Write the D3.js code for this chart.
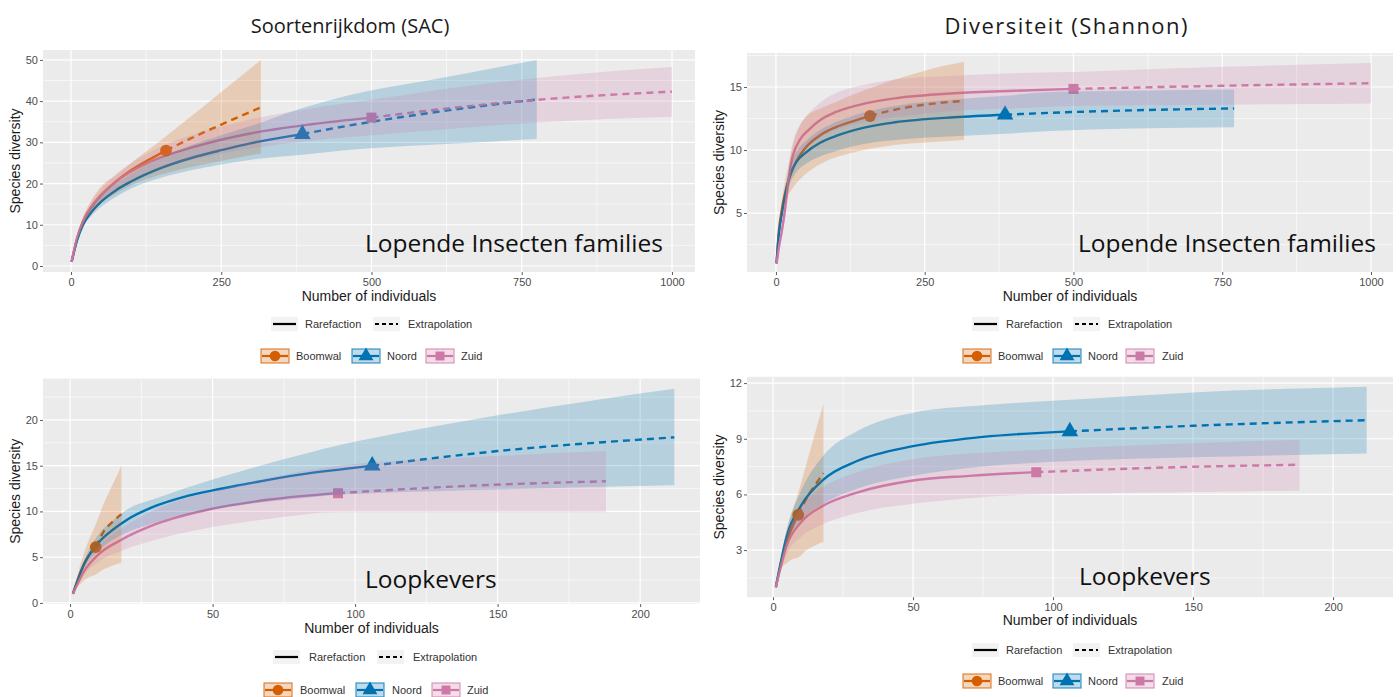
<!DOCTYPE html>
<html>
<head>
<meta charset="utf-8">
<script src="https://cdn.jsdelivr.net/npm/d3@7"></script>
<style>
  html, body { margin: 0; padding: 0; background: #ffffff; }
  svg { display: block; }
</style>
</head>
<body>
<svg id="chart" width="1400" height="697"></svg>
<script>
// ---------------- DATA ----------------
const groups = ["Boomwal", "Noord", "Zuid"];
const groupColors = ["#D55E00", "#0072B2", "#CC79A7"];
const panelTitles = ["Soortenrijkdom (SAC)", "Diversiteit (Shannon)"];
const rowLabels = ["Lopende Insecten families", "Loopkevers"];
const methodLabels = ["Rarefaction", "Extrapolation"];

// reference sample sizes (observed) per group
const insectRef = [158, 385, 500];
const beetleRef = [9, 106, 94];

// [n, estimate, lower, upper]
const insSAC_Boomwal = [[1,1,1,1],[10,6.5,5.8,7.2],[20,10.8,9.8,11.8],[35,14.5,12.8,16.2],[50,17.2,15.2,19.3],[75,20.5,17.6,22],[100,23.2,19.6,25],[130,25.8,21.3,28.3],[158,28,22.5,31.5],[200,31,24,36.3],[250,34.3,25.5,42.2],[316,38.5,27.3,50]];
const insSAC_Noord = [[1,1,1,1],[10,6.2,5.8,6.6],[20,10,9.4,10.6],[35,13.3,12.3,14.3],[50,15.6,14.3,16.9],[75,18.4,16.8,20],[100,20.5,18.8,22.4],[150,23.8,21.4,26.2],[200,26.2,23.2,29.3],[250,28.1,24.6,31.7],[300,29.8,25.8,34],[385,32,27,38.3],[464,34.1,28.2,41.5],[600,37.2,29.4,45.2],[775,40.4,30.8,50]];
const insSAC_Zuid = [[1,1,1,1],[10,6.8,6.3,7.3],[20,10.8,10,11.6],[35,14.6,13.5,15.7],[50,17.2,15.8,18.6],[75,20.5,18.7,22.3],[100,22.9,20.8,25],[150,26.4,23.8,29],[200,28.7,25.7,31.7],[300,32.2,28.5,35.6],[400,34.4,30.4,38.2],[500,36,31.7,40.3],[650,38.6,33.5,43.5],[800,40.6,35,46],[1000,42.3,36.2,48.3]];

const insSH_Boomwal = [[1,1,1,1],[5,3.6,3.2,4],[10,5.3,4.6,6],[15,6.5,5.6,7.5],[20,7.4,6.3,8.6],[30,8.7,7.1,10.6],[50,10.2,8.1,12.6],[75,11.2,8.9,13.3],[100,11.8,9.4,13.8],[130,12.3,9.8,14.4],[158,12.7,10.1,14.9],[200,13.2,10.4,15.6],[250,13.6,10.6,16.3],[316,13.9,10.8,17]];
const insSH_Noord = [[1,1,1,1],[5,3.4,3.1,3.7],[10,5,4.6,5.4],[20,7.4,6.8,8],[25,8.2,7.5,8.9],[35,9.1,8.3,9.9],[50,9.8,8.9,10.7],[75,10.6,9.5,11.6],[100,11.1,9.9,12.2],[150,11.8,10.5,13],[200,12.2,10.8,13.5],[300,12.6,11.1,14],[385,12.8,11.3,14.3],[460,12.95,11.5,14.6],[600,13.15,11.7,14.7],[770,13.3,11.8,14.8]];
const insSH_Zuid = [[1,1,1,1],[5,2.3,2,2.6],[10,3.6,3.2,4],[15,5.2,4.6,5.8],[20,7.2,6.4,8],[25,8.9,7.9,9.9],[30,9.8,8.7,10.9],[40,10.8,9.6,12],[55,11.6,10.3,12.9],[75,12.4,11,13.8],[100,13,11.6,14.5],[150,13.7,12.2,15.2],[200,14.1,12.6,15.6],[300,14.5,13.1,15.9],[400,14.7,13.3,16.1],[500,14.85,13.5,16.2],[750,15.1,13.6,16.6],[1000,15.3,13.7,16.9]];

const bSAC_Boomwal = [[1,1,1,1],[2,1.9,1.5,2.3],[4,3.6,2.2,4.6],[6,4.9,2.7,6.4],[9,6.1,3.1,8.6],[12,7.9,3.7,11],[15,8.9,4.1,13],[18,9.7,4.4,15]];
const bSAC_Noord = [[1,1,1,1],[5,4.3,3.9,4.7],[10,6.6,5.7,7.5],[15,8,6.9,9],[20,9.1,7.7,10.2],[30,10.6,8.8,11.4],[40,11.6,9.6,12.5],[50,12.3,10.2,13.5],[60,12.9,10.7,14.4],[80,14,11.4,16.1],[98,14.7,11.9,17.5],[106,15,12,18],[150,16.6,12.4,20.5],[212,18.1,12.85,23.4]];
const bSAC_Zuid = [[1,1,1,1],[5,3.5,3.1,3.9],[10,5.3,4.5,6.1],[18,6.9,5.7,8.1],[30,8.6,6.9,10.2],[50,10.3,8.3,12.2],[70,11.3,9.2,13.7],[94,12,9.9,15],[140,12.8,9.9,15.9],[188,13.3,9.9,16.6]];

const bSH_Boomwal = [[1,1,1,1],[3,2.4,2,2.7],[5,3.5,2.3,4.1],[7,4.3,2.5,5.1],[9,4.9,2.6,6.1],[12,5.8,3,7.7],[15,6.5,3.25,9.3],[18,7.15,3.45,10.9]];
const bSH_Noord = [[1,1,1,1],[5,3.8,3.4,4.2],[10,5.4,4.6,6.2],[18,6.8,5.5,8.1],[30,7.8,6.3,9.4],[50,8.6,7,10.4],[75,9.1,7.5,10.8],[106,9.4,7.8,11.1],[150,9.7,8,11.5],[212,10,8.2,11.8]];
const bSH_Zuid = [[1,1,1,1],[5,3.3,2.8,3.8],[10,4.5,3.7,5.3],[18,5.4,4.4,6.4],[30,6.1,5,7.2],[50,6.75,5.5,7.9],[70,7,5.8,8.2],[94,7.2,6,8.4],[140,7.45,6.1,8.7],[188,7.6,6.2,8.95]];

const insSACTicksX = [0, 250, 500, 750, 1000];
const insSACTicksY = [0, 10, 20, 30, 40, 50];
const insSHTicksY = [5, 10, 15];
const bTicksX = [0, 50, 100, 150, 200];
const bSACTicksY = [0, 5, 10, 15, 20];
const bSHTicksY = [3, 6, 9, 12];

// ---------------- LAYOUT ----------------
const panels = [
  { series: [insSAC_Boomwal, insSAC_Noord, insSAC_Zuid], refs: insectRef,
    rect: {x0: 43, x1: 695, y0: 50, y1: 272}, xDom: [-46.6, 1038.3], yDom: [-1.46, 52.4],
    xTicks: insSACTicksX, yTicks: insSACTicksY, xMinor: [125, 375, 625, 875], yMinor: [5, 15, 25, 35, 45],
    label: rowLabels[0], labelPos: [365, 252], xTitleY: 301, yTitleX: 20, legendY: [324, 356],
    legX: {k1: 271, t1: 305, k2: 373, t2: 408, g: [[261, 296], [352, 387], [426, 461]]} },
  { series: [insSH_Boomwal, insSH_Noord, insSH_Zuid], refs: insectRef,
    rect: {x0: 747, x1: 1393, y0: 53, y1: 272}, xDom: [-48.7, 1037], yDom: [0.32, 17.7],
    xTicks: insSACTicksX, yTicks: insSHTicksY, xMinor: [125, 375, 625, 875], yMinor: [2.5, 7.5, 12.5, 17.5],
    label: rowLabels[0], labelPos: [1078, 252], xTitleY: 301, yTitleX: 724, legendY: [324, 356],
    legX: {k1: 972, t1: 1006, k2: 1073, t2: 1108, g: [[963, 998], [1053, 1088], [1126, 1162]]} },
  { series: [bSAC_Boomwal, bSAC_Noord, bSAC_Zuid], refs: beetleRef,
    rect: {x0: 43, x1: 700, y0: 378.6, y1: 604}, xDom: [-9.5, 221], yDom: [-0.12, 24.52],
    xTicks: bTicksX, yTicks: bSACTicksY, xMinor: [25, 75, 125, 175], yMinor: [2.5, 7.5, 12.5, 17.5, 22.5],
    label: rowLabels[1], labelPos: [365, 588], xTitleY: 633, yTitleX: 20, legendY: [657, 690],
    legX: {k1: 273, t1: 309, k2: 377, t2: 413, g: [[264, 300], [356, 392], [432, 467]]} },
  { series: [bSH_Boomwal, bSH_Noord, bSH_Zuid], refs: beetleRef,
    rect: {x0: 747, x1: 1393, y0: 376.8, y1: 597.2}, xDom: [-9.3, 221.4], yDom: [0.46, 12.34],
    xTicks: bTicksX, yTicks: bSHTicksY, xMinor: [25, 75, 125, 175], yMinor: [1.5, 4.5, 7.5, 10.5],
    label: rowLabels[1], labelPos: [1079, 585], xTitleY: 625, yTitleX: 724, legendY: [650, 681],
    legX: {k1: 972, t1: 1006, k2: 1073, t2: 1108, g: [[963, 998], [1053, 1088], [1126, 1162]]} }
];

const svg = d3.select("#chart");
const bandOpacity = 0.22;
const symbolTypes = [d3.symbolCircle, d3.symbolTriangle, d3.symbolSquare];
const symbolSizes = [110, 120, 100];

// titles
svg.append("text").attr("x", 350).attr("y", 33).attr("text-anchor", "middle")
  .attr("font-family", "Open Sans, sans-serif").attr("font-size", 20).attr("fill", "#1a1a1a").text(panelTitles[0]);
svg.append("text").attr("x", 1066).attr("y", 34).attr("text-anchor", "middle")
  .attr("font-family", "Open Sans, sans-serif").attr("font-size", 22).attr("fill", "#1a1a1a")
  .attr("textLength", 243).attr("lengthAdjust", "spacing").text(panelTitles[1]);

const defs = svg.append("defs");

panels.forEach((p, pi) => {
  const r = p.rect;
  const x = d3.scaleLinear().domain(p.xDom).range([r.x0, r.x1]);
  const y = d3.scaleLinear().domain(p.yDom).range([r.y1, r.y0]);
  const g = svg.append("g");

  const clipId = "clip" + pi;
  defs.append("clipPath").attr("id", clipId).append("rect")
    .attr("x", r.x0).attr("y", r.y0).attr("width", r.x1 - r.x0).attr("height", r.y1 - r.y0);

  g.append("rect").attr("x", r.x0).attr("y", r.y0).attr("width", r.x1 - r.x0).attr("height", r.y1 - r.y0)
    .attr("fill", "#EBEBEB");

  // grid
  const grid = g.append("g").attr("clip-path", `url(#${clipId})`);
  p.yMinor.forEach(v => grid.append("line").attr("x1", r.x0).attr("x2", r.x1).attr("y1", y(v)).attr("y2", y(v))
    .attr("stroke", "#fff").attr("stroke-width", 0.6));
  p.xMinor.forEach(v => grid.append("line").attr("y1", r.y0).attr("y2", r.y1).attr("x1", x(v)).attr("x2", x(v))
    .attr("stroke", "#fff").attr("stroke-width", 0.6));
  p.yTicks.forEach(v => grid.append("line").attr("x1", r.x0).attr("x2", r.x1).attr("y1", y(v)).attr("y2", y(v))
    .attr("stroke", "#fff").attr("stroke-width", 1.2));
  p.xTicks.forEach(v => grid.append("line").attr("y1", r.y0).attr("y2", r.y1).attr("x1", x(v)).attr("x2", x(v))
    .attr("stroke", "#fff").attr("stroke-width", 1.2));

  // axes
  const xAxis = d3.axisBottom(x).tickValues(p.xTicks).tickSize(3).tickPadding(3).tickFormat(d3.format("d"));
  const yAxis = d3.axisLeft(y).tickValues(p.yTicks).tickSize(3).tickPadding(2).tickFormat(d3.format("d"));
  const gx = g.append("g").attr("transform", `translate(0,${r.y1})`).call(xAxis);
  const gy = g.append("g").attr("transform", `translate(${r.x0},0)`).call(yAxis);
  [gx, gy].forEach(a => {
    a.select(".domain").remove();
    a.selectAll(".tick line").attr("stroke", "#333333").attr("stroke-width", 0.8);
    a.selectAll(".tick text").attr("fill", "#4D4D4D").attr("font-size", 11)
      .attr("font-family", "Liberation Sans, Arial, sans-serif");
  });

  // axis titles
  g.append("text").attr("x", (r.x0 + r.x1) / 2).attr("y", p.xTitleY).attr("text-anchor", "middle")
    .attr("font-family", "Liberation Sans, Arial, sans-serif").attr("font-size", 14).attr("fill", "#1a1a1a")
    .text("Number of individuals");
  g.append("text").attr("transform", `translate(${p.yTitleX},${(r.y0 + r.y1) / 2}) rotate(-90)`)
    .attr("text-anchor", "middle")
    .attr("font-family", "Liberation Sans, Arial, sans-serif").attr("font-size", 14).attr("fill", "#1a1a1a")
    .text("Species diversity");

  const plot = g.append("g").attr("clip-path", `url(#${clipId})`);
  const line = d3.line().x(d => x(d[0])).y(d => y(d[1])).curve(d3.curveMonotoneX);
  const area = d3.area().x(d => x(d[0])).y0(d => y(d[2])).y1(d => y(d[3])).curve(d3.curveMonotoneX);

  // lines and points (under ribbons, as in ggiNEXT)
  p.series.forEach((s, si) => {
    const ref = p.refs[si];
    const rare = s.filter(d => d[0] <= ref);
    const extra = s.filter(d => d[0] >= ref);
    plot.append("path").attr("d", line(rare)).attr("fill", "none").attr("stroke", groupColors[si])
      .attr("stroke-width", 2.4);
    plot.append("path").attr("d", line(extra)).attr("fill", "none").attr("stroke", groupColors[si])
      .attr("stroke-width", 2.4).attr("stroke-dasharray", "7,5");
  });
  p.series.forEach((s, si) => {
    const ref = p.refs[si];
    const pt = s.find(d => d[0] === ref);
    if (!pt) return;
    plot.append("path").attr("d", d3.symbol().type(symbolTypes[si]).size(symbolSizes[si])())
      .attr("transform", `translate(${x(pt[0])},${y(pt[1])})`).attr("fill", groupColors[si]);
  });
  p.series.forEach((s, si) => {
    plot.append("path").attr("d", area(s)).attr("fill", groupColors[si]).attr("fill-opacity", bandOpacity);
  });

  // annotation
  g.append("text").attr("x", p.labelPos[0]).attr("y", p.labelPos[1])
    .attr("font-family", "Open Sans, sans-serif").attr("font-size", 24.5).attr("fill", "#111")
    .text(p.label);

  // legends
  const L = p.legX, ly1 = p.legendY[0], ly2 = p.legendY[1];
  const kw = 27, kh = 14;
  const lg = g.append("g");
  [[L.k1, L.t1, null], [L.k2, L.t2, "4,3"]].forEach((k, ki) => {
    lg.append("rect").attr("x", k[0]).attr("y", ly1 - kh / 2).attr("width", kw).attr("height", kh).attr("fill", "#F2F2F2");
    lg.append("line").attr("x1", k[0] + 2).attr("x2", k[0] + kw - 2).attr("y1", ly1).attr("y2", ly1)
      .attr("stroke", "#000").attr("stroke-width", 2.2).attr("stroke-dasharray", k[2]);
    lg.append("text").attr("x", k[1]).attr("y", ly1 + 4).attr("font-size", 11)
      .attr("font-family", "Liberation Sans, Arial, sans-serif").attr("fill", "#333").text(methodLabels[ki]);
  });
  groups.forEach((gname, gi) => {
    const kx = L.g[gi][0], tx = L.g[gi][1];
    lg.append("rect").attr("x", kx).attr("y", ly2 - kh / 2).attr("width", kw + 1).attr("height", kh)
      .attr("fill", groupColors[gi]).attr("fill-opacity", 0.25)
      .attr("stroke", groupColors[gi]).attr("stroke-opacity", 0.75).attr("stroke-width", 1.2);
    lg.append("line").attr("x1", kx + 1).attr("x2", kx + kw).attr("y1", ly2).attr("y2", ly2)
      .attr("stroke", groupColors[gi]).attr("stroke-width", 2.2);
    lg.append("path").attr("d", d3.symbol().type(symbolTypes[gi]).size(symbolSizes[gi] * 0.8)())
      .attr("transform", `translate(${kx + (kw + 1) / 2},${ly2})`).attr("fill", groupColors[gi]);
    lg.append("text").attr("x", tx).attr("y", ly2 + 4).attr("font-size", 11)
      .attr("font-family", "Liberation Sans, Arial, sans-serif").attr("fill", "#333").text(gname);
  });
});
</script>
</body>
</html>
